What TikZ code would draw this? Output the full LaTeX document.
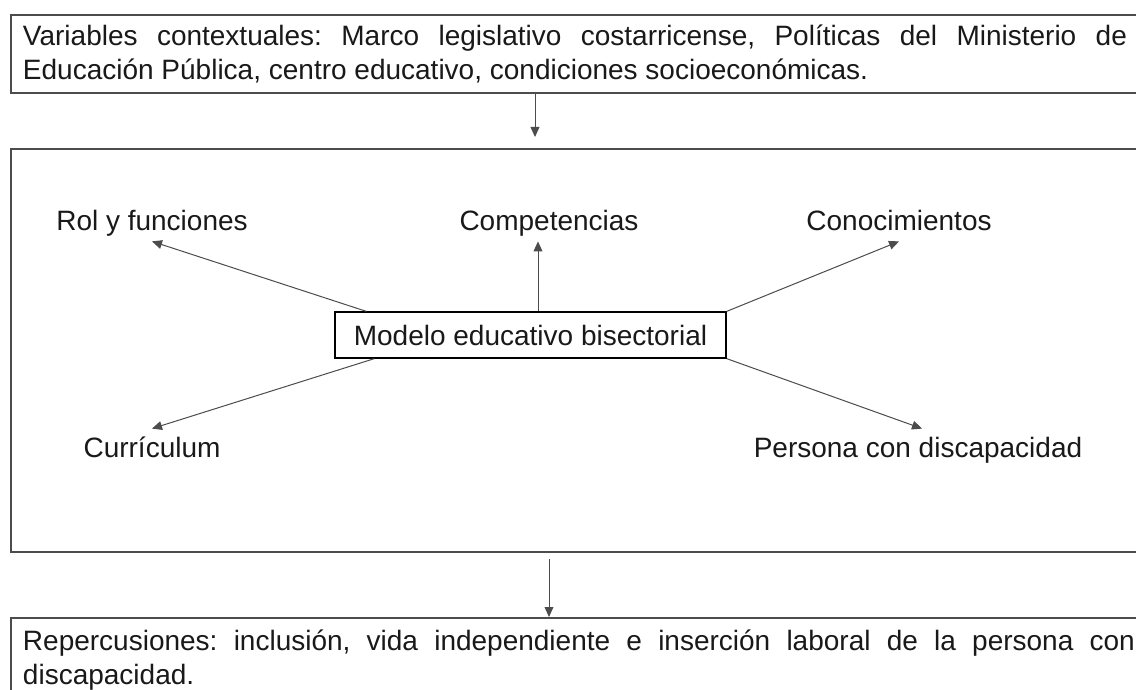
\documentclass[tikz,border=0pt]{standalone}
\usepackage{fontspec}
\setmainfont{Liberation Sans}
\usepackage{tikz}
\usetikzlibrary{arrows.meta,calc}
\definecolor{boxline}{gray}{0.3}
\definecolor{linkline}{gray}{0.3}
\definecolor{ink}{gray}{0.1}
\hyphenpenalty=10000
\exhyphenpenalty=10000
\frenchspacing
\tikzset{>={Triangle[length=5pt,width=4.4pt]}}
\tikzset{
    bigbox/.style={rectangle,draw=boxline,line width=1pt,anchor=north west,
        inner xsep=6pt,align=justify,font=\fontsize{14pt}{17pt}\selectfont,text=ink},
    hub/.style={rectangle,draw=black,line width=0.7pt,fill=white,inner xsep=9.5pt,
        minimum height=23pt,font=\fontsize{14pt}{17pt}\selectfont,text=ink},
    part/.style={inner sep=3pt,text height=0.75em,text depth=0.25em,anchor=base,
        font=\fontsize{14pt}{17pt}\selectfont,text=ink},
    link/.style={->,draw=linkline,line width=0.5pt},
}
\begin{document}
\begin{tikzpicture}[x=0.5pt,y=-0.5pt]
    \useasboundingbox (0,0) rectangle (1136,690);
    \clip (0,0) rectangle (1136,690);
    \fill[white] (0,0) rectangle (1136,690);

    % three frames
    \node[bigbox,inner ysep=5pt,text width=552pt] (ctx) at (10,14)
        {Variables contextuales: Marco legislativo costarricense, Políticas del Ministerio de Educación Pública, centro educativo, condiciones socioeconómicas.};
    \node[bigbox,inner sep=0pt,minimum width=564pt,minimum height=201.5pt] (marco) at (10,148) {};
    \node[bigbox,inner ysep=6pt,text width=556pt] (rep) at (10,617)
        {Repercusiones: inclusión, vida independiente e inserción laboral de la persona con discapacidad.};

    % model and its parts
    \node[hub] (modelo) at (530.5,335) {Modelo educativo bisectorial};
    \node[part] (rol) at (152,230) {Rol y funciones};
    \node[part] (comp) at (549,230) {Competencias};
    \node[part] (conoc) at (899,230) {Conocimientos};
    \node[part] (curr) at (152,457) {Currículum};
    \node[part] (pers) at (918,457) {Persona con discapacidad};

    \draw[link] ([xshift=16pt]modelo.north west) -- (rol.south);
    \draw[link] ([xshift=3.75pt]modelo.north) -- ([xshift=3.75pt]modelo.north |- comp.south);
    \draw[link] (modelo.north east) -- (conoc.south);
    \draw[link] ([xshift=20pt]modelo.south west) -- ([yshift=3.5pt]curr.north);
    \draw[link] (modelo.south east) -- ([xshift=2pt,yshift=3.5pt]pers.north);

    % flow between frames
    \draw[link,shorten >=5.5pt] ([xshift=-20pt]ctx.south) -- ([xshift=-20pt]ctx.south |- marco.north);
    \draw[link,shorten <=3pt] ([xshift=-13pt]marco.south) -- ([xshift=-13pt]marco.south |- rep.north);
\end{tikzpicture}
\end{document}
